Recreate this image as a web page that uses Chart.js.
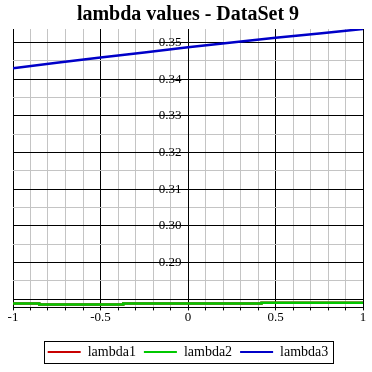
<!DOCTYPE html>
<html lang="en">
<head>
    <meta charset="UTF-8">
    <title>lambda values - DataSet 9</title>
    <script src="https://cdn.jsdelivr.net/npm/chart.js"></script>
    <style>
        html, body {
            margin: 0;
            padding: 0;
            background: #fff;
        }
        .wrap {
            width: 372px;
            height: 372px;
        }
    </style>
</head>
<body>
    <div class="wrap">
        <canvas id="lambdaChart" width="372" height="372"></canvas>
    </div>

    <script>
        // data
        const seriesNames = ['lambda1', 'lambda2', 'lambda3'];
        const seriesColors = ['#c80000', '#00c800', '#0000c8'];

        const lambda3X = [-1, -0.75, -0.5, -0.25, 0, 0.25, 0.5, 0.75, 1];
        const lambda3Y = [0.3430, 0.34447, 0.3459, 0.3473, 0.3487, 0.3500, 0.3513, 0.3525, 0.3537];

        // lambda2 is a step line, lambda1 sits right under it
        const lambda2X = [-1, -0.85, -0.37, 0.42, 0.92, 1];
        const lambda2Y = [0.2791, 0.27885, 0.2786, 0.27885, 0.2791, 0.2791];
        const lambda1Y = [0.2791, 0.27885, 0.2786, 0.27885, 0.2791, 0.2791];

        const xTickLabels = ['-1', '-0.5', '0', '0.5', '1'];
        const yTickLabels = ['0.29', '0.30', '0.31', '0.32', '0.33', '0.34', '0.35'];

        const yMin = 0.2778;
        const yMax = 0.3537;

        const toPoints = (xs, ys) => xs.map((x, i) => ({ x: x, y: ys[i] }));

        const serif = 'Liberation Serif, Times New Roman, serif';
        const gridGrey = '#c4c4c4';

        // minor ticks every 0.1 on x, every 0.005 on y
        const isMajorX = v => Math.abs(Math.round(v * 10) % 5) === 0;
        const isMajorY = v => Math.round(v * 1000) % 10 === 0;

        // box around the legend, like the original
        const legendFrame = {
            id: 'legendFrame',
            afterDraw(chart) {
                const boxes = chart.legend.legendHitBoxes;
                if (!boxes || !boxes.length) return;
                const left = Math.min(...boxes.map(b => b.left)) - 4;
                const right = Math.max(...boxes.map(b => b.left + b.width)) + 4;
                const top = Math.min(...boxes.map(b => b.top)) - 4;
                const bottom = Math.max(...boxes.map(b => b.top + b.height)) + 4;
                const ctx = chart.ctx;
                ctx.save();
                ctx.strokeStyle = '#000';
                ctx.lineWidth = 1;
                ctx.strokeRect(Math.round(left) + 0.5, Math.round(top) + 0.5,
                    Math.round(right - left), Math.round(bottom - top));
                ctx.restore();
            }
        };

        const ctx = document.getElementById('lambdaChart').getContext('2d');

        new Chart(ctx, {
            type: 'line',
            data: {
                datasets: [
                    {
                        label: seriesNames[0],
                        data: toPoints(lambda2X, lambda1Y),
                        borderColor: seriesColors[0],
                        backgroundColor: seriesColors[0],
                        borderWidth: 2.5,
                        pointRadius: 0,
                        stepped: 'after',
                        order: 2
                    },
                    {
                        label: seriesNames[1],
                        data: toPoints(lambda2X, lambda2Y),
                        borderColor: seriesColors[1],
                        backgroundColor: seriesColors[1],
                        borderWidth: 2.5,
                        pointRadius: 0,
                        stepped: 'after',
                        order: 1
                    },
                    {
                        label: seriesNames[2],
                        data: toPoints(lambda3X, lambda3Y),
                        borderColor: seriesColors[2],
                        backgroundColor: seriesColors[2],
                        borderWidth: 2.5,
                        pointRadius: 0,
                        order: 0
                    }
                ]
            },
            options: {
                responsive: false,
                animation: false,
                layout: {
                    padding: { left: 13, right: 9, top: 0, bottom: 3 }
                },
                plugins: {
                    title: {
                        display: true,
                        text: 'lambda values - DataSet 9',
                        color: '#000',
                        font: { family: serif, size: 20, weight: 'bold' },
                        padding: { top: 3, bottom: 2 }
                    },
                    legend: {
                        position: 'bottom',
                        labels: {
                            color: '#000',
                            font: { family: serif, size: 14 },
                            boxWidth: 33,
                            boxHeight: 2,
                            padding: 8,
                            sort: (a, b) => a.datasetIndex - b.datasetIndex,
                            generateLabels: chart => {
                                const items = Chart.defaults.plugins.legend.labels.generateLabels(chart);
                                items.forEach(it => {
                                    it.fillStyle = seriesColors[it.datasetIndex];
                                    it.lineWidth = 0;
                                });
                                return items;
                            }
                        }
                    },
                    tooltip: { enabled: false }
                },
                scales: {
                    x: {
                        type: 'linear',
                        position: 'bottom',
                        min: -1,
                        max: 1,
                        afterBuildTicks: scale => {
                            const ticks = [];
                            for (let i = -10; i <= 10; i++) ticks.push({ value: i / 10 });
                            scale.ticks = ticks;
                        },
                        // leave the gap between the axis and the legend
                        afterFit: scale => {
                            scale.height += 13;
                        },
                        border: { color: '#000', width: 1 },
                        grid: {
                            color: c => isMajorX(c.tick.value) ? '#000' : gridGrey,
                            tickColor: '#000',
                            tickLength: 3,
                            lineWidth: 1
                        },
                        ticks: {
                            autoSkip: false,
                            maxRotation: 0,
                            color: '#000',
                            padding: -1,
                            font: { family: serif, size: 13 },
                            callback: v => {
                                if (!isMajorX(v)) return '';
                                return xTickLabels[Math.round((v + 1) * 2)];
                            }
                        }
                    },
                    y: {
                        type: 'linear',
                        position: { x: 0 },
                        min: yMin,
                        max: yMax,
                        afterBuildTicks: scale => {
                            const ticks = [];
                            for (let i = 56; i <= 70; i++) ticks.push({ value: i * 0.005 });
                            scale.ticks = ticks;
                        },
                        border: { color: '#000', width: 1 },
                        grid: {
                            color: c => isMajorY(c.tick.value) ? '#000' : gridGrey,
                            drawTicks: false,
                            lineWidth: 1
                        },
                        ticks: {
                            autoSkip: false,
                            color: '#000',
                            font: { family: serif, size: 13 },
                            callback: v => {
                                if (!isMajorY(v)) return '';
                                const k = Math.round(v * 100) - 29;
                                // trailing spaces keep the label off the axis line
                                return yTickLabels[k] ? yTickLabels[k] + '  ' : '';
                            }
                        }
                    }
                }
            },
            plugins: [legendFrame]
        });
    </script>
</body>
</html>
